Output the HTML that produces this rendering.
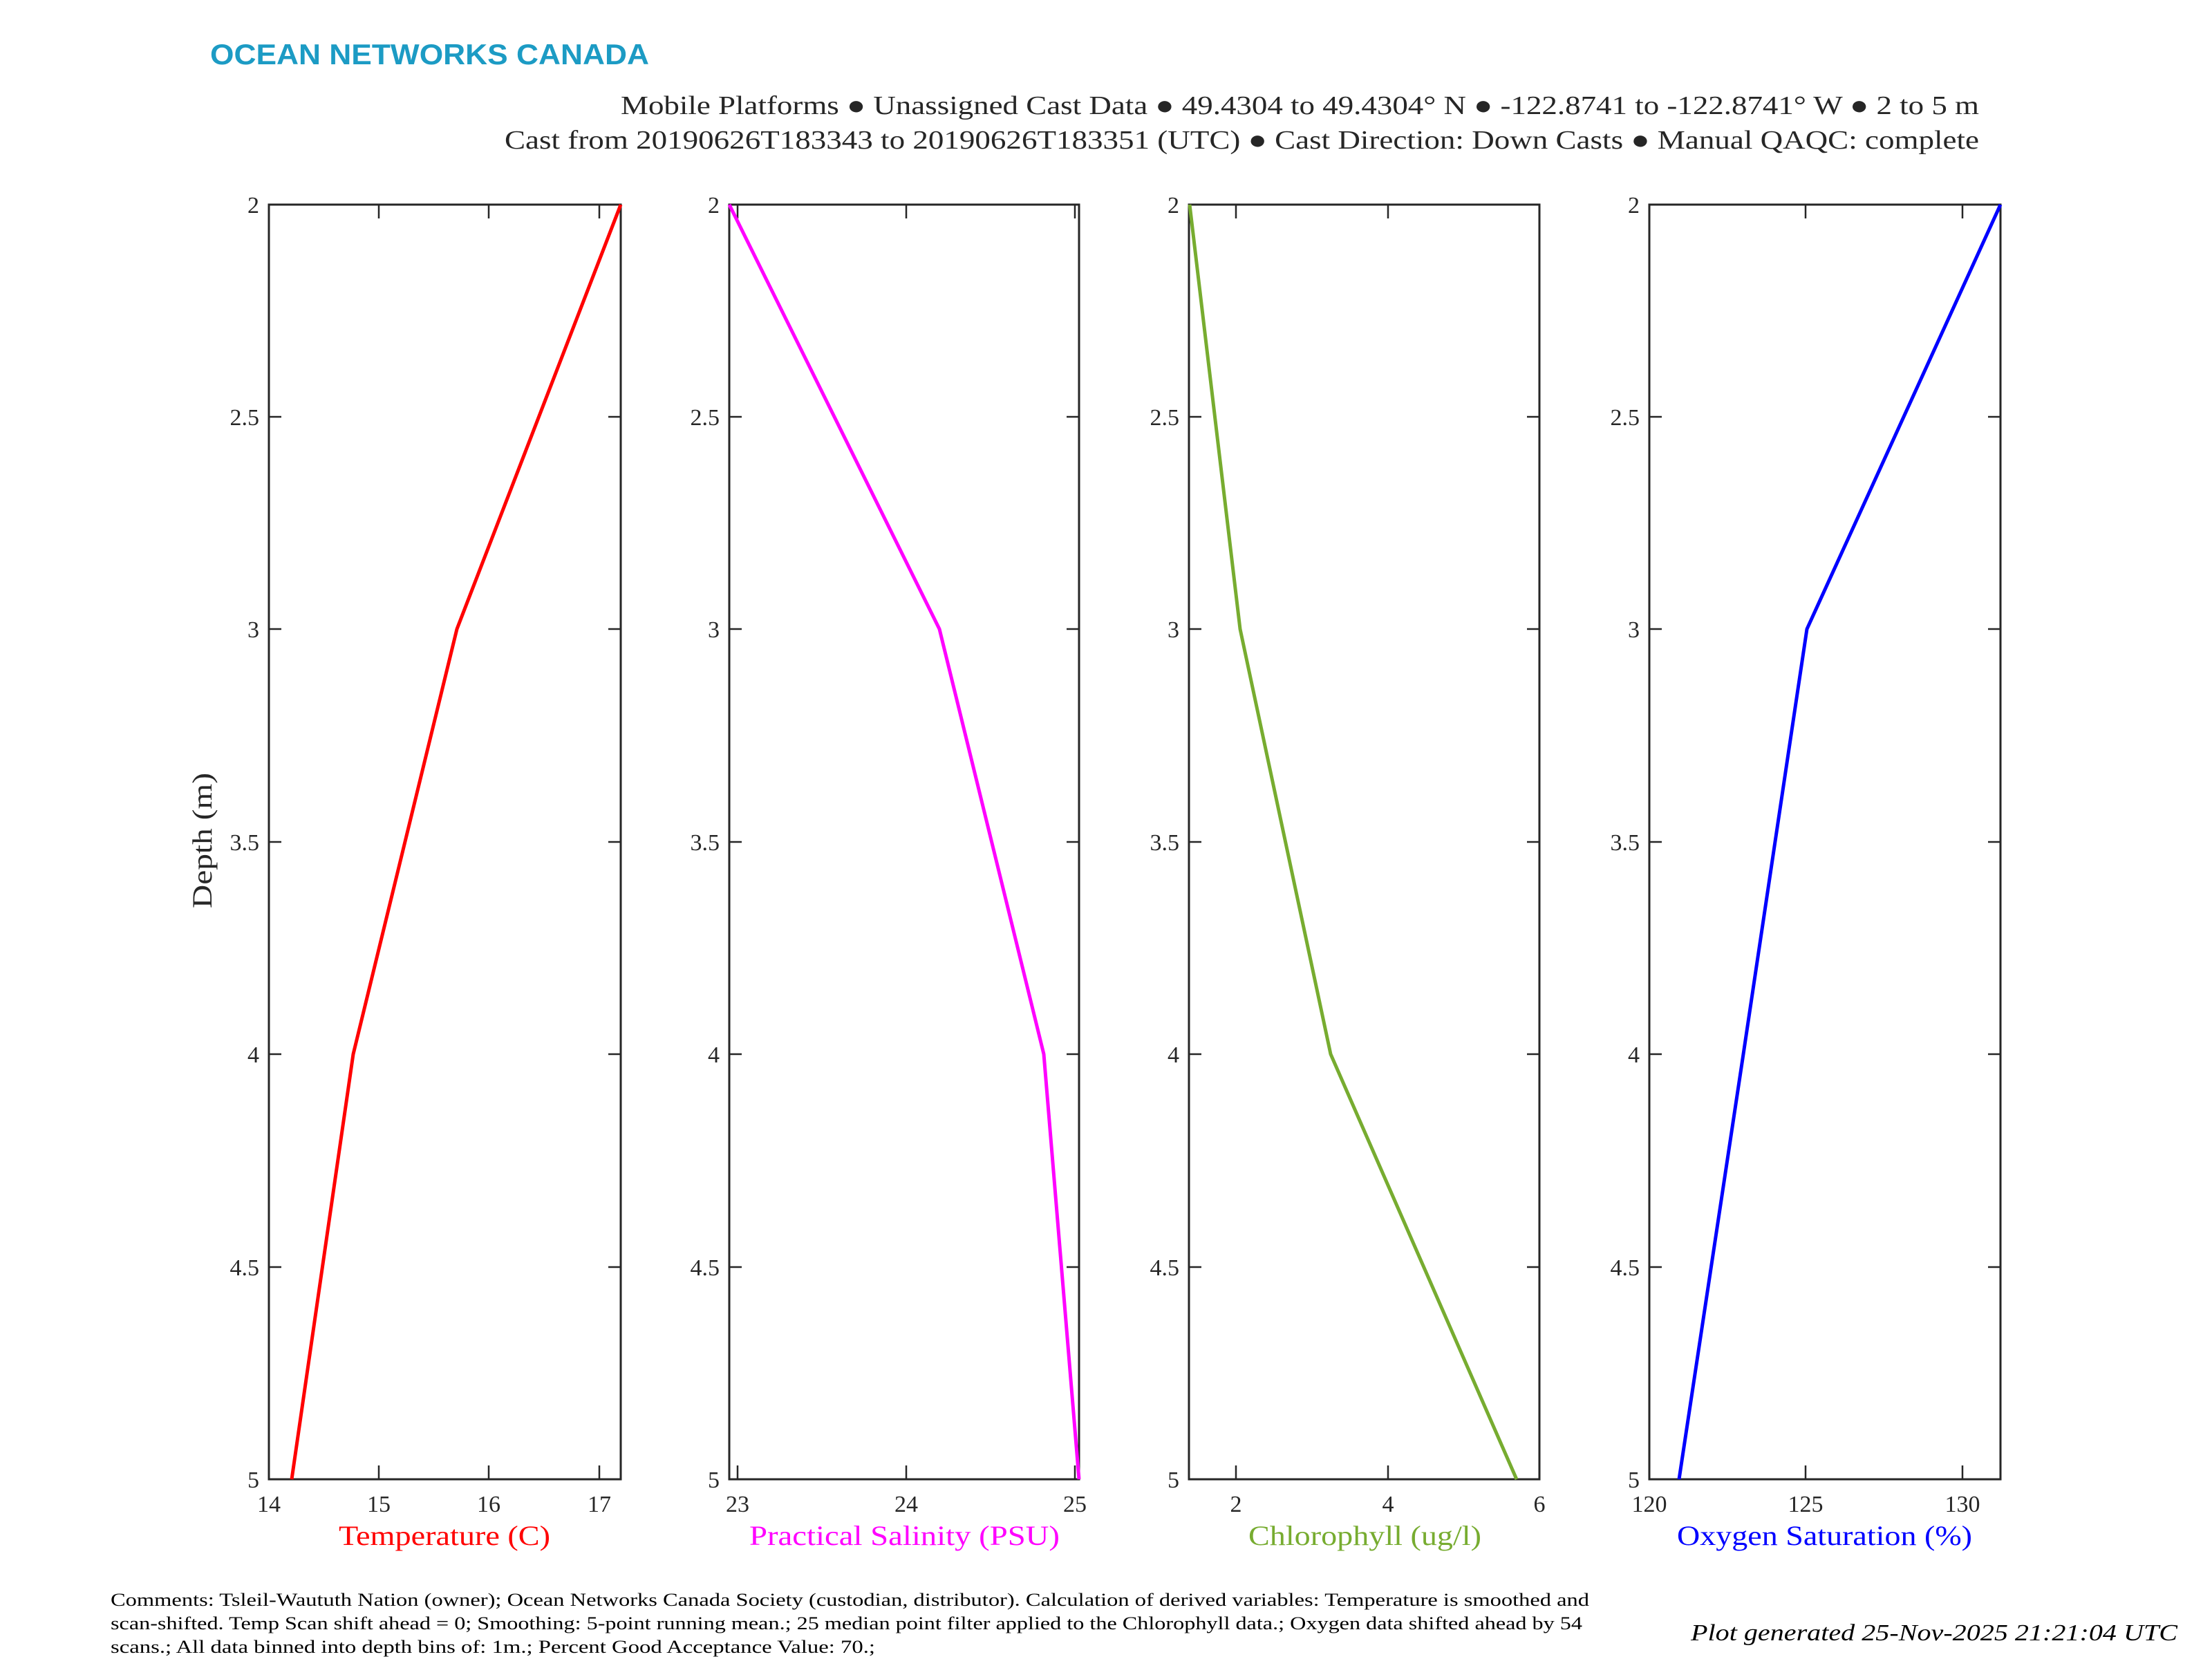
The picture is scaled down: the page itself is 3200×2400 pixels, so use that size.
<!DOCTYPE html>
<html><head><meta charset="utf-8"><style>
html,body{margin:0;padding:0;background:#fff;}
svg{display:block;}
text{font-family:"Liberation Serif",serif;fill:#262626;}
</style></head><body>
<svg width="3200" height="2400" viewBox="0 0 3200 2400" xmlns="http://www.w3.org/2000/svg">
<text x="304" y="93" textLength="635" lengthAdjust="spacingAndGlyphs" style="font-family:'Liberation Sans',sans-serif;font-weight:bold;font-size:42px;fill:#1c9bc4">OCEAN NETWORKS CANADA</text>
<text x="898" y="165" textLength="1965" lengthAdjust="spacingAndGlyphs" font-size="38">Mobile Platforms ● Unassigned Cast Data ● 49.4304 to 49.4304° N ● -122.8741 to -122.8741° W ● 2 to 5 m</text>
<text x="730" y="215" textLength="2133" lengthAdjust="spacingAndGlyphs" font-size="38">Cast from 20190626T183343 to 20190626T183351 (UTC) ● Cast Direction: Down Casts ● Manual QAQC: complete</text>

<g stroke="#262626" stroke-width="3" fill="none">
<rect x="389" y="296" width="509" height="1844"/>
<rect x="1055" y="296" width="506" height="1844"/>
<rect x="1720" y="296" width="507" height="1844"/>
<rect x="2386" y="296" width="508" height="1844"/>
</g>
<g stroke="#262626" stroke-width="2.5">
<path d="M389 603h18M389 910h18M389 1218h18M389 1525h18M389 1833h18 M898 603h-18M898 910h-18M898 1218h-18M898 1525h-18M898 1833h-18"/>
<path d="M1055 603h18M1055 910h18M1055 1218h18M1055 1525h18M1055 1833h18 M1561 603h-18M1561 910h-18M1561 1218h-18M1561 1525h-18M1561 1833h-18"/>
<path d="M1720 603h18M1720 910h18M1720 1218h18M1720 1525h18M1720 1833h18 M2227 603h-18M2227 910h-18M2227 1218h-18M2227 1525h-18M2227 1833h-18"/>
<path d="M2386 603h18M2386 910h18M2386 1218h18M2386 1525h18M2386 1833h18 M2894 603h-18M2894 910h-18M2894 1218h-18M2894 1525h-18M2894 1833h-18"/>
<path d="M548 2140v-20M707 2140v-20M867 2140v-20 M548 296v20M707 296v20M867 296v20"/>
<path d="M1067 2140v-20M1311 2140v-20M1555 2140v-20 M1067 296v20M1311 296v20M1555 296v20"/>
<path d="M1788 2140v-20M2008 2140v-20 M1788 296v20M2008 296v20"/>
<path d="M2612 2140v-20M2839 2140v-20 M2612 296v20M2839 296v20"/>
</g>
<g fill="none" stroke-width="5" stroke-linejoin="round">
<polyline stroke="#ff0000" points="898,296 661,910 511,1525 422,2140"/>
<polyline stroke="#ff00ff" points="1055,296 1359,910 1510,1525 1561,2140"/>
<polyline stroke="#77ac30" points="1721,296 1794,910 1925,1525 2194,2140"/>
<polyline stroke="#0000ff" points="2894,296 2614,910 2522,1525 2429,2140"/>
</g>
<g font-size="34" text-anchor="end">
<text x="375" y="308">2</text><text x="375" y="615">2.5</text><text x="375" y="922">3</text><text x="375" y="1230">3.5</text><text x="375" y="1537">4</text><text x="375" y="1845">4.5</text><text x="375" y="2152">5</text>
<text x="1041" y="308">2</text><text x="1041" y="615">2.5</text><text x="1041" y="922">3</text><text x="1041" y="1230">3.5</text><text x="1041" y="1537">4</text><text x="1041" y="1845">4.5</text><text x="1041" y="2152">5</text>
<text x="1706" y="308">2</text><text x="1706" y="615">2.5</text><text x="1706" y="922">3</text><text x="1706" y="1230">3.5</text><text x="1706" y="1537">4</text><text x="1706" y="1845">4.5</text><text x="1706" y="2152">5</text>
<text x="2372" y="308">2</text><text x="2372" y="615">2.5</text><text x="2372" y="922">3</text><text x="2372" y="1230">3.5</text><text x="2372" y="1537">4</text><text x="2372" y="1845">4.5</text><text x="2372" y="2152">5</text>
</g>
<g font-size="34" text-anchor="middle">
<text x="389" y="2187">14</text><text x="548" y="2187">15</text><text x="707" y="2187">16</text><text x="867" y="2187">17</text>
<text x="1067" y="2187">23</text><text x="1311" y="2187">24</text><text x="1555" y="2187">25</text>
<text x="1788" y="2187">2</text><text x="2008" y="2187">4</text><text x="2227" y="2187">6</text>
<text x="2386" y="2187">120</text><text x="2612" y="2187">125</text><text x="2839" y="2187">130</text>
</g>
<g font-size="40">
<text x="490" y="2235" textLength="306" lengthAdjust="spacingAndGlyphs" style="fill:#ff0000">Temperature (C)</text>
<text x="1084" y="2235" textLength="449" lengthAdjust="spacingAndGlyphs" style="fill:#ff00ff">Practical Salinity (PSU)</text>
<text x="1806" y="2235" textLength="337" lengthAdjust="spacingAndGlyphs" style="fill:#77ac30">Chlorophyll (ug/l)</text>
<text x="2426" y="2235" textLength="427" lengthAdjust="spacingAndGlyphs" style="fill:#0000ff">Oxygen Saturation (%)</text>
<text transform="translate(306,1314) rotate(-90)" textLength="196" lengthAdjust="spacingAndGlyphs">Depth (m)</text>
</g>
<g font-size="26">
<text x="160" y="2323" textLength="2139" lengthAdjust="spacingAndGlyphs" style="fill:#000">Comments: Tsleil-Waututh Nation (owner); Ocean Networks Canada Society (custodian, distributor). Calculation of derived variables: Temperature is smoothed and</text>
<text x="160" y="2357" textLength="2129" lengthAdjust="spacingAndGlyphs" style="fill:#000">scan-shifted. Temp Scan shift ahead = 0; Smoothing: 5-point running mean.; 25 median point filter applied to the Chlorophyll data.; Oxygen data shifted ahead by 54</text>
<text x="160" y="2391" textLength="1106" lengthAdjust="spacingAndGlyphs" style="fill:#000">scans.; All data binned into depth bins of: 1m.; Percent Good Acceptance Value: 70.;</text>
</g>
<text x="2446" y="2373" textLength="704" lengthAdjust="spacingAndGlyphs" font-size="34" font-style="italic" style="fill:#000">Plot generated 25-Nov-2025 21:21:04 UTC</text>
</svg>
</body></html>
